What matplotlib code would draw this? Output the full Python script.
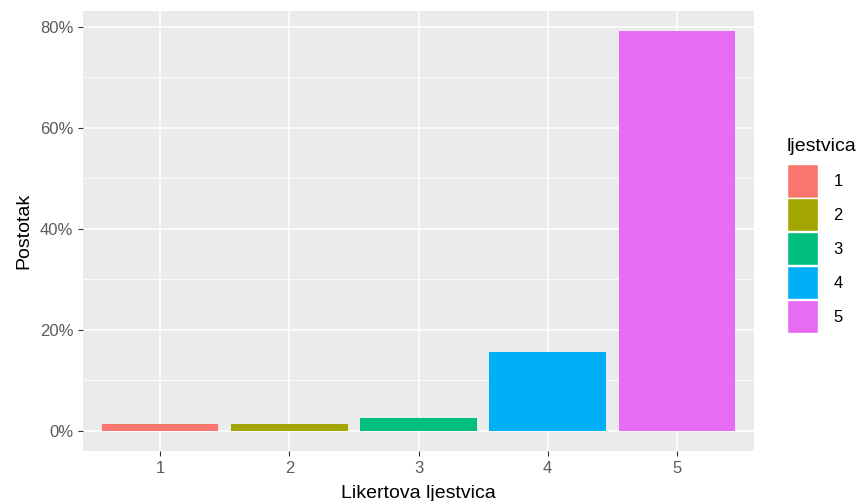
import numpy as np
import matplotlib.pyplot as plt
from matplotlib.patches import Patch
from matplotlib.ticker import FuncFormatter, MultipleLocator

plt.rcParams['font.family'] = ['Liberation Sans', 'DejaVu Sans']

# Likert scale answers and share of respondents (%)
categories = ['1', '2', '3', '4', '5']
percent = [1.3, 1.3, 2.6, 15.6, 79.2]
colors = ['#F8766D', '#A3A500', '#00BF7D', '#00B0F6', '#E76BF3']

fig = plt.figure(figsize=(8.63, 5.01), dpi=100)
ax = fig.add_axes([83 / 863, 50 / 501, (754 - 83) / 863, (451 - 11) / 501])

ax.set_facecolor('#EBEBEB')
x = np.arange(1, len(categories) + 1)
ax.bar(x, percent, width=0.9, color=colors, zorder=3)

ax.set_xlim(0.4, 5.6)
ymax = max(percent) * 1.05
ax.set_ylim(-max(percent) * 0.05, ymax)
ax.set_xticks(x)
ax.set_xticklabels(categories)
ax.yaxis.set_major_locator(MultipleLocator(20))
ax.yaxis.set_minor_locator(MultipleLocator(10))
ax.yaxis.set_major_formatter(FuncFormatter(lambda v, p: '%d%%' % v))

ax.grid(True, which='major', color='white', linewidth=1.1, zorder=0)
ax.grid(True, which='minor', axis='y', color='white', linewidth=0.55, zorder=0)
ax.tick_params(which='major', colors='#333333', labelcolor='#5A5A5A',
               labelsize=12, length=3.5, width=0.8)
ax.tick_params(which='minor', length=0)
for s in ax.spines.values():
    s.set_visible(False)

ax.set_xlabel('Likertova ljestvica', fontsize=14, labelpad=7)
ax.set_ylabel('Postotak', fontsize=14, labelpad=5)

handles = [Patch(facecolor=c, edgecolor='white', label=l) for c, l in zip(colors, categories)]
leg = fig.legend(handles=handles, title='ljestvica', loc='upper left',
                 bbox_to_anchor=(780 / 863, 1 - 131 / 501), frameon=False,
                 fontsize=12, title_fontsize=14, handlelength=1.85, handleheight=2.68,
                 labelspacing=0.05, handletextpad=0.95, borderaxespad=0)
leg._legend_box.align = 'left'
leg._legend_box.sep = 7

fig.savefig('out.png', dpi=100)
